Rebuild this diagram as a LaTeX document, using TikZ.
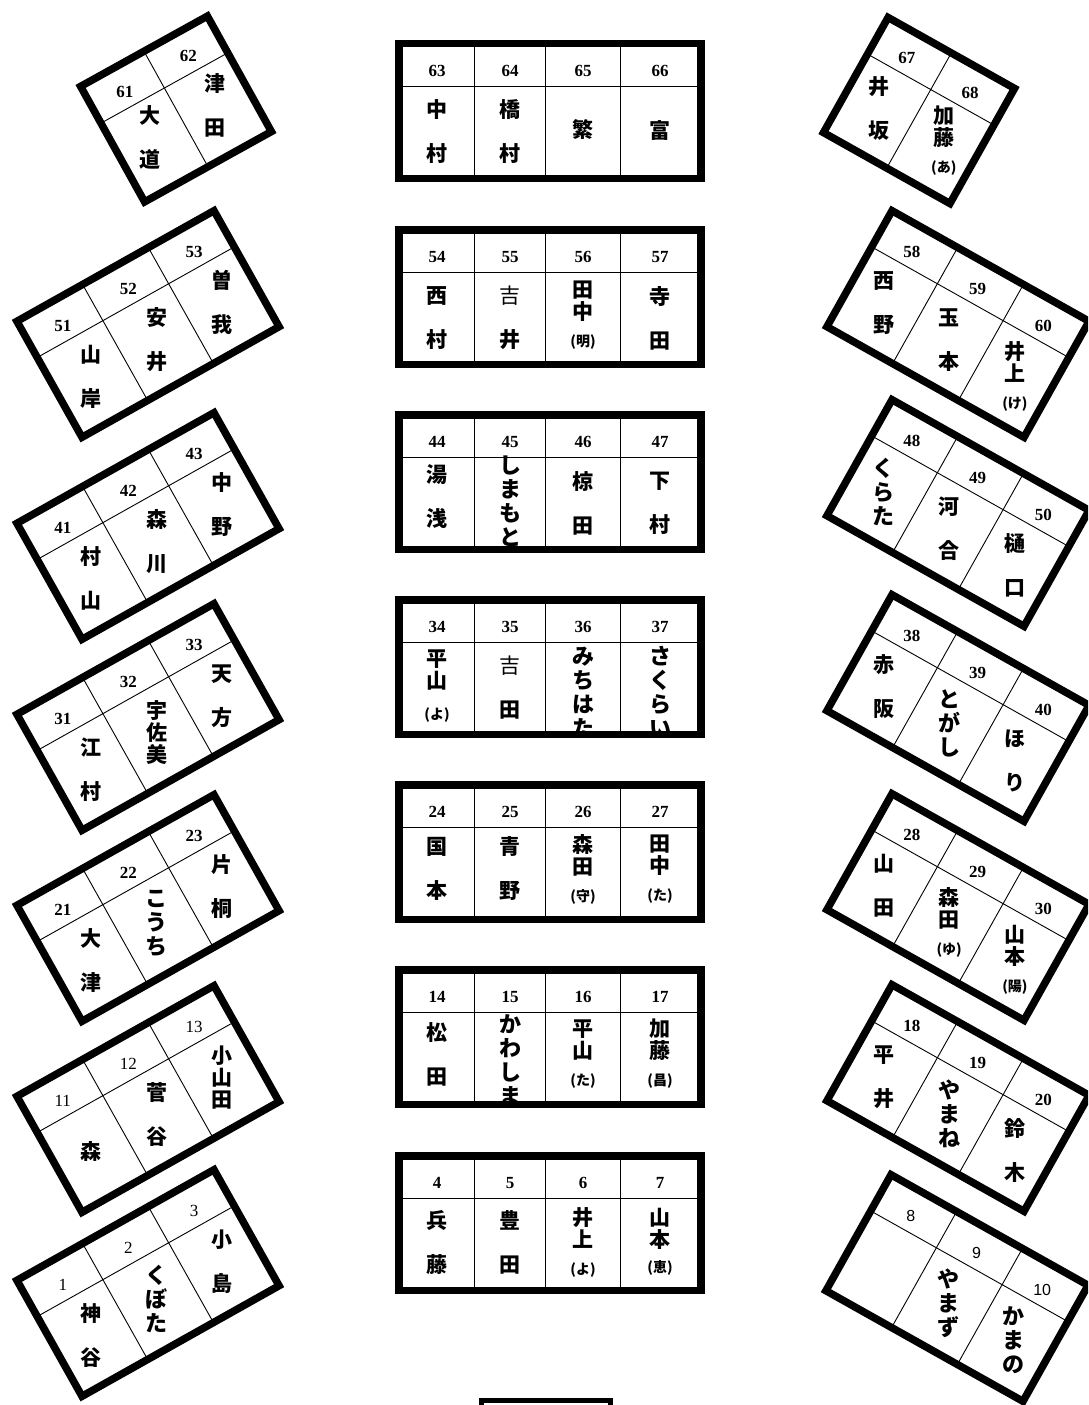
\documentclass[tikz,border=0pt]{standalone}
\usepackage{fontspec}
\newfontfamily\jpfont{Noto Sans CJK JP}
\newfontfamily\numfont{Liberation Serif}
\newfontfamily\numsans{Liberation Sans}
\usepackage{tikz}
\newcommand{\yomi}[1]{{\fontsize{14}{14}\selectfont(#1)}}

\begin{document}
\begin{tikzpicture}[
    x=1pt, y=-1pt,
    tableFrame/.style={draw=black, line width=7.5pt},
    gridLine/.style={draw=black, line width=0.9pt},
    podiumFrame/.style={draw=black, line width=5pt},
    seatNum/.style={font=\numfont\bfseries\fontsize{17}{17}\selectfont, inner sep=0pt},
    seatNumLight/.style={font=\numfont\fontsize{17}{17}\selectfont, inner sep=0pt},
    seatNumSans/.style={font=\numsans\fontsize{16}{16}\selectfont, inner sep=0pt},
    nameWide/.style={font=\jpfont\bfseries\fontsize{21}{44}\selectfont, align=center, inner sep=0pt},
    nameTight/.style={font=\jpfont\bfseries\fontsize{21}{22}\selectfont, align=center, inner sep=0pt},
    nameKana/.style={font=\jpfont\bfseries\fontsize{22}{24}\selectfont, align=center, inner sep=0pt}
]
    \useasboundingbox (0,0) rectangle (1088,1405);
    \clip (0,0) rectangle (1088,1405);

    % Center row 1: seats 63-66
    \begin{scope}[shift={(0,40)}]
        \node[seatNum] (n63) at (437,31) {63};
        \node[seatNum] (n64) at (510,31) {64};
        \node[seatNum] (n65) at (583,31) {65};
        \node[seatNum] (n66) at (660,31) {66};
        \node[nameWide] (s63) at (437,92) {中\\村};
        \node[nameWide] (s64) at (510,92) {橋\\村};
        \node[nameWide] (s65) at (583,90) {繁};
        \node[nameWide] (s66) at (660,90) {富};
        \draw[gridLine] (399,46) -- (701,46) (474.5,3.75) -- (474.5,138.25) (545.5,3.75) -- (545.5,138.25) (620,3.75) -- (620,138.25);
        \draw[tableFrame] (399,3.75) rectangle (701,138.25);
    \end{scope}

    % Center row 2: seats 54-57
    \begin{scope}[shift={(0,226)}]
        \node[seatNum] (n54) at (437,31) {54};
        \node[seatNum] (n55) at (510,31) {55};
        \node[seatNum] (n56) at (583,31) {56};
        \node[seatNum] (n57) at (660,31) {57};
        \node[nameWide] (s54) at (437,92) {西\\村};
        \node[nameWide] (s55) at (510,92) {{\mdseries 吉}\\井};
        \node[nameTight] (s56) at (583,89) {田\\中\\[5pt]\yomi{明}};
        \node[nameWide] (s57) at (660,92) {寺\\田};
        \draw[gridLine] (399,46) -- (701,46) (474.5,3.75) -- (474.5,138.25) (545.5,3.75) -- (545.5,138.25) (620,3.75) -- (620,138.25);
        \draw[tableFrame] (399,3.75) rectangle (701,138.25);
    \end{scope}

    % Center row 3: seats 44-47
    \begin{scope}[shift={(0,411)}]
        \node[seatNum] (n44) at (437,31) {44};
        \node[seatNum] (n45) at (510,31) {45};
        \node[seatNum] (n46) at (583,31) {46};
        \node[seatNum] (n47) at (660,31) {47};
        \node[nameWide] (s44) at (437,86) {湯\\浅};
        \node[nameKana] (s45) at (510,90) {し\\ま\\も\\と};
        \node[nameWide] (s46) at (583,92) {椋\\田};
        \node[nameWide] (s47) at (660,92) {下\\村};
        \draw[gridLine] (399,46) -- (701,46) (474.5,3.75) -- (474.5,138.25) (545.5,3.75) -- (545.5,138.25) (620,3.75) -- (620,138.25);
        \draw[tableFrame] (399,3.75) rectangle (701,138.25);
    \end{scope}

    % Center row 4: seats 34-37
    \begin{scope}[shift={(0,596)}]
        \node[seatNum] (n34) at (437,31) {34};
        \node[seatNum] (n35) at (510,31) {35};
        \node[seatNum] (n36) at (583,31) {36};
        \node[seatNum] (n37) at (660,31) {37};
        \node[nameTight] (s34) at (437,90) {平\\山\\[9pt]\yomi{よ}};
        \node[nameWide] (s35) at (510,92) {{\mdseries 吉}\\田};
        \node[nameKana] (s36) at (583,96) {み\\ち\\は\\た};
        \node[nameKana] (s37) at (660,96) {さ\\く\\ら\\い};
        \draw[gridLine] (399,46) -- (701,46) (474.5,3.75) -- (474.5,138.25) (545.5,3.75) -- (545.5,138.25) (620,3.75) -- (620,138.25);
        \draw[tableFrame] (399,3.75) rectangle (701,138.25);
    \end{scope}

    % Center row 5: seats 24-27
    \begin{scope}[shift={(0,781)}]
        \node[seatNum] (n24) at (437,31) {24};
        \node[seatNum] (n25) at (510,31) {25};
        \node[seatNum] (n26) at (583,31) {26};
        \node[seatNum] (n27) at (660,31) {27};
        \node[nameWide] (s24) at (437,88) {国\\本};
        \node[nameWide] (s25) at (510,88) {青\\野};
        \node[nameTight] (s26) at (583,88) {森\\田\\[5pt]\yomi{守}};
        \node[nameTight] (s27) at (660,88) {田\\中\\[5pt]\yomi{た}};
        \draw[gridLine] (399,46) -- (701,46) (474.5,3.75) -- (474.5,138.25) (545.5,3.75) -- (545.5,138.25) (620,3.75) -- (620,138.25);
        \draw[tableFrame] (399,3.75) rectangle (701,138.25);
    \end{scope}

    % Center row 6: seats 14-17
    \begin{scope}[shift={(0,966)}]
        \node[seatNum] (n14) at (437,31) {14};
        \node[seatNum] (n15) at (510,31) {15};
        \node[seatNum] (n16) at (583,31) {16};
        \node[seatNum] (n17) at (660,31) {17};
        \node[nameWide] (s14) at (437,88) {松\\田};
        \node[nameKana] (s15) at (510,94) {か\\わ\\し\\ま};
        \node[nameTight] (s16) at (583,88) {平\\山\\[5pt]\yomi{た}};
        \node[nameTight] (s17) at (660,88) {加\\藤\\[5pt]\yomi{昌}};
        \draw[gridLine] (399,46) -- (701,46) (474.5,3.75) -- (474.5,138.25) (545.5,3.75) -- (545.5,138.25) (620,3.75) -- (620,138.25);
        \draw[tableFrame] (399,3.75) rectangle (701,138.25);
    \end{scope}

    % Center row 7: seats 4-7
    \begin{scope}[shift={(0,1152)}]
        \node[seatNum] (n4) at (437,31) {4};
        \node[seatNum] (n5) at (510,31) {5};
        \node[seatNum] (n6) at (583,31) {6};
        \node[seatNum] (n7) at (660,31) {7};
        \node[nameWide] (s4) at (437,90) {兵\\藤};
        \node[nameWide] (s5) at (510,90) {豊\\田};
        \node[nameTight] (s6) at (583,90) {井\\上\\[5pt]\yomi{よ}};
        \node[nameTight] (s7) at (660,90) {山\\本\\[3pt]\yomi{恵}};
        \draw[gridLine] (399,46) -- (701,46) (474.5,3.75) -- (474.5,138.25) (545.5,3.75) -- (545.5,138.25) (620,3.75) -- (620,138.25);
        \draw[tableFrame] (399,3.75) rectangle (701,138.25);
    \end{scope}

    % Left block: seats 61-62
    \begin{scope}[shift={(176,109)}, rotate=29]
        \node[seatNum] (n61) at (-36.25,-40) {61};
        \node[seatNum] (n62) at (36.25,-40) {62};
        \node[nameWide] (s61) at (-36.25,12) {大\\道};
        \node[nameWide] (s62) at (36.25,16) {津\\田};
        \draw[gridLine] (-72.5,-24) -- (72.5,-24) (0,-66) -- (0,66);
        \draw[tableFrame] (-72.5,-66) rectangle (72.5,66);
    \end{scope}

    % Left block: seats 51-53
    \begin{scope}[shift={(148,324)}, rotate=29.3]
        \node[seatNum] (n51) at (-75.3,-40) {51};
        \node[seatNum] (n52) at (0,-40) {52};
        \node[seatNum] (n53) at (75.3,-40) {53};
        \node[nameWide] (s51) at (-75.3,18) {山\\岸};
        \node[nameWide] (s52) at (0,18) {安\\井};
        \node[nameWide] (s53) at (75.3,18) {曽\\我};
        \draw[gridLine] (-113,-25) -- (113,-25) (-37.7,-66.5) -- (-37.7,66.5) (37.7,-66.5) -- (37.7,66.5);
        \draw[tableFrame] (-113,-66.5) rectangle (113,66.5);
    \end{scope}

    % Left block: seats 41-43
    \begin{scope}[shift={(148,526)}, rotate=29.3]
        \node[seatNum] (n41) at (-75.3,-40) {41};
        \node[seatNum] (n42) at (0,-40) {42};
        \node[seatNum] (n43) at (75.3,-40) {43};
        \node[nameWide] (s41) at (-75.3,18) {村\\山};
        \node[nameWide] (s42) at (0,18) {森\\川};
        \node[nameWide] (s43) at (75.3,18) {中\\野};
        \draw[gridLine] (-113,-25) -- (113,-25) (-37.7,-66.5) -- (-37.7,66.5) (37.7,-66.5) -- (37.7,66.5);
        \draw[tableFrame] (-113,-66.5) rectangle (113,66.5);
    \end{scope}

    % Left block: seats 31-33
    \begin{scope}[shift={(148,717)}, rotate=29.3]
        \node[seatNum] (n31) at (-75.3,-40) {31};
        \node[seatNum] (n32) at (0,-40) {32};
        \node[seatNum] (n33) at (75.3,-40) {33};
        \node[nameWide] (s31) at (-75.3,18) {江\\村};
        \node[nameTight] (s32) at (0,18) {宇\\佐\\美};
        \node[nameWide] (s33) at (75.3,18) {天\\方};
        \draw[gridLine] (-113,-25) -- (113,-25) (-37.7,-66.5) -- (-37.7,66.5) (37.7,-66.5) -- (37.7,66.5);
        \draw[tableFrame] (-113,-66.5) rectangle (113,66.5);
    \end{scope}

    % Left block: seats 21-23
    \begin{scope}[shift={(148,908)}, rotate=29.3]
        \node[seatNum] (n21) at (-75.3,-40) {21};
        \node[seatNum] (n22) at (0,-40) {22};
        \node[seatNum] (n23) at (75.3,-40) {23};
        \node[nameWide] (s21) at (-75.3,18) {大\\津};
        \node[nameKana] (s22) at (0,18) {こ\\う\\ち};
        \node[nameWide] (s23) at (75.3,18) {片\\桐};
        \draw[gridLine] (-113,-25) -- (113,-25) (-37.7,-66.5) -- (-37.7,66.5) (37.7,-66.5) -- (37.7,66.5);
        \draw[tableFrame] (-113,-66.5) rectangle (113,66.5);
    \end{scope}

    % Left block: seats 11-13
    \begin{scope}[shift={(148,1099)}, rotate=29.3]
        \node[seatNumLight] (n11) at (-75.3,-40) {11};
        \node[seatNumLight] (n12) at (0,-40) {12};
        \node[seatNumLight] (n13) at (75.3,-40) {13};
        \node[nameWide] (s11) at (-75.3,18) {森};
        \node[nameWide] (s12) at (0,18) {菅\\谷};
        \node[nameTight] (s13) at (75.3,18) {小\\山\\田};
        \draw[gridLine] (-113,-25) -- (113,-25) (-37.7,-66.5) -- (-37.7,66.5) (37.7,-66.5) -- (37.7,66.5);
        \draw[tableFrame] (-113,-66.5) rectangle (113,66.5);
    \end{scope}

    % Left block: seats 1-3
    \begin{scope}[shift={(148,1283)}, rotate=29.3]
        \node[seatNumLight] (n1) at (-75.3,-40) {1};
        \node[seatNumLight] (n2) at (0,-40) {2};
        \node[seatNumLight] (n3) at (75.3,-40) {3};
        \node[nameWide] (s1) at (-75.3,18) {神\\谷};
        \node[nameKana] (s2) at (0,18) {く\\ぼ\\た};
        \node[nameWide] (s3) at (75.3,18) {小\\島};
        \draw[gridLine] (-113,-25) -- (113,-25) (-37.7,-66.5) -- (-37.7,66.5) (37.7,-66.5) -- (37.7,66.5);
        \draw[tableFrame] (-113,-66.5) rectangle (113,66.5);
    \end{scope}

    % Right block: seats 67-68
    \begin{scope}[shift={(919,110.5)}, rotate=-29.3]
        \node[seatNum] (n67) at (-36.25,-40) {67};
        \node[seatNum] (n68) at (36.25,-40) {68};
        \node[nameWide] (s67) at (-36.25,18) {井\\坂};
        \node[nameTight] (s68) at (36.25,14) {加\\藤\\[5pt]\yomi{あ}};
        \draw[gridLine] (-72.5,-24) -- (72.5,-24) (0,-66) -- (0,66);
        \draw[tableFrame] (-72.5,-66) rectangle (72.5,66);
    \end{scope}

    % Right block: seats 58-60
    \begin{scope}[shift={(958,324)}, rotate=-29.3]
        \node[seatNum] (n58) at (-75.3,-40) {58};
        \node[seatNum] (n59) at (0,-40) {59};
        \node[seatNum] (n60) at (75.3,-40) {60};
        \node[nameWide] (s58) at (-75.3,18) {西\\野};
        \node[nameWide] (s59) at (0,18) {玉\\本};
        \node[nameTight] (s60) at (75.3,18) {井\\上\\[5pt]\yomi{け}};
        \draw[gridLine] (-113,-25) -- (113,-25) (-37.7,-66.5) -- (-37.7,66.5) (37.7,-66.5) -- (37.7,66.5);
        \draw[tableFrame] (-113,-66.5) rectangle (113,66.5);
    \end{scope}

    % Right block: seats 48-50
    \begin{scope}[shift={(958,513)}, rotate=-29.3]
        \node[seatNum] (n48) at (-75.3,-40) {48};
        \node[seatNum] (n49) at (0,-40) {49};
        \node[seatNum] (n50) at (75.3,-40) {50};
        \node[nameKana] (s48) at (-75.3,18) {く\\ら\\た};
        \node[nameWide] (s49) at (0,18) {河\\合};
        \node[nameWide] (s50) at (75.3,18) {樋\\口};
        \draw[gridLine] (-113,-25) -- (113,-25) (-37.7,-66.5) -- (-37.7,66.5) (37.7,-66.5) -- (37.7,66.5);
        \draw[tableFrame] (-113,-66.5) rectangle (113,66.5);
    \end{scope}

    % Right block: seats 38-40
    \begin{scope}[shift={(958,708)}, rotate=-29.3]
        \node[seatNum] (n38) at (-75.3,-40) {38};
        \node[seatNum] (n39) at (0,-40) {39};
        \node[seatNum] (n40) at (75.3,-40) {40};
        \node[nameWide] (s38) at (-75.3,18) {赤\\阪};
        \node[nameKana] (s39) at (0,18) {と\\が\\し};
        \node[nameWide] (s40) at (75.3,18) {ほ\\り};
        \draw[gridLine] (-113,-25) -- (113,-25) (-37.7,-66.5) -- (-37.7,66.5) (37.7,-66.5) -- (37.7,66.5);
        \draw[tableFrame] (-113,-66.5) rectangle (113,66.5);
    \end{scope}

    % Right block: seats 28-30
    \begin{scope}[shift={(958,907)}, rotate=-29.3]
        \node[seatNum] (n28) at (-75.3,-40) {28};
        \node[seatNum] (n29) at (0,-40) {29};
        \node[seatNum] (n30) at (75.3,-40) {30};
        \node[nameWide] (s28) at (-75.3,18) {山\\田};
        \node[nameTight] (s29) at (0,18) {森\\田\\[5pt]\yomi{ゆ}};
        \node[nameTight] (s30) at (75.3,18) {山\\本\\[5pt]\yomi{陽}};
        \draw[gridLine] (-113,-25) -- (113,-25) (-37.7,-66.5) -- (-37.7,66.5) (37.7,-66.5) -- (37.7,66.5);
        \draw[tableFrame] (-113,-66.5) rectangle (113,66.5);
    \end{scope}

    % Right block: seats 18-20
    \begin{scope}[shift={(958,1098)}, rotate=-29.3]
        \node[seatNum] (n18) at (-75.3,-40) {18};
        \node[seatNum] (n19) at (0,-40) {19};
        \node[seatNum] (n20) at (75.3,-40) {20};
        \node[nameWide] (s18) at (-75.3,18) {平\\井};
        \node[nameKana] (s19) at (0,18) {や\\ま\\ね};
        \node[nameWide] (s20) at (75.3,18) {鈴\\木};
        \draw[gridLine] (-113,-25) -- (113,-25) (-37.7,-66.5) -- (-37.7,66.5) (37.7,-66.5) -- (37.7,66.5);
        \draw[tableFrame] (-113,-66.5) rectangle (113,66.5);
    \end{scope}

    % Right block: seats 8-10
    \begin{scope}[shift={(957,1288)}, rotate=-29.3]
        \node[seatNumSans] (n8) at (-75.3,-40) {8};
        \node[seatNumSans] (n9) at (0,-40) {9};
        \node[seatNumSans] (n10) at (75.3,-40) {10};
        \node[nameKana] (s9) at (0,18) {や\\ま\\ず};
        \node[nameKana] (s10) at (75.3,18) {か\\ま\\の};
        \draw[gridLine] (-113,-25) -- (113,-25) (-37.7,-66.5) -- (-37.7,66.5) (37.7,-66.5) -- (37.7,66.5);
        \draw[tableFrame] (-113,-66.5) rectangle (113,66.5);
    \end{scope}

    % Podium (cut by the page edge)
    \draw[podiumFrame] (481,1400.5) rectangle (610.5,1460);

\end{tikzpicture}
\end{document}
